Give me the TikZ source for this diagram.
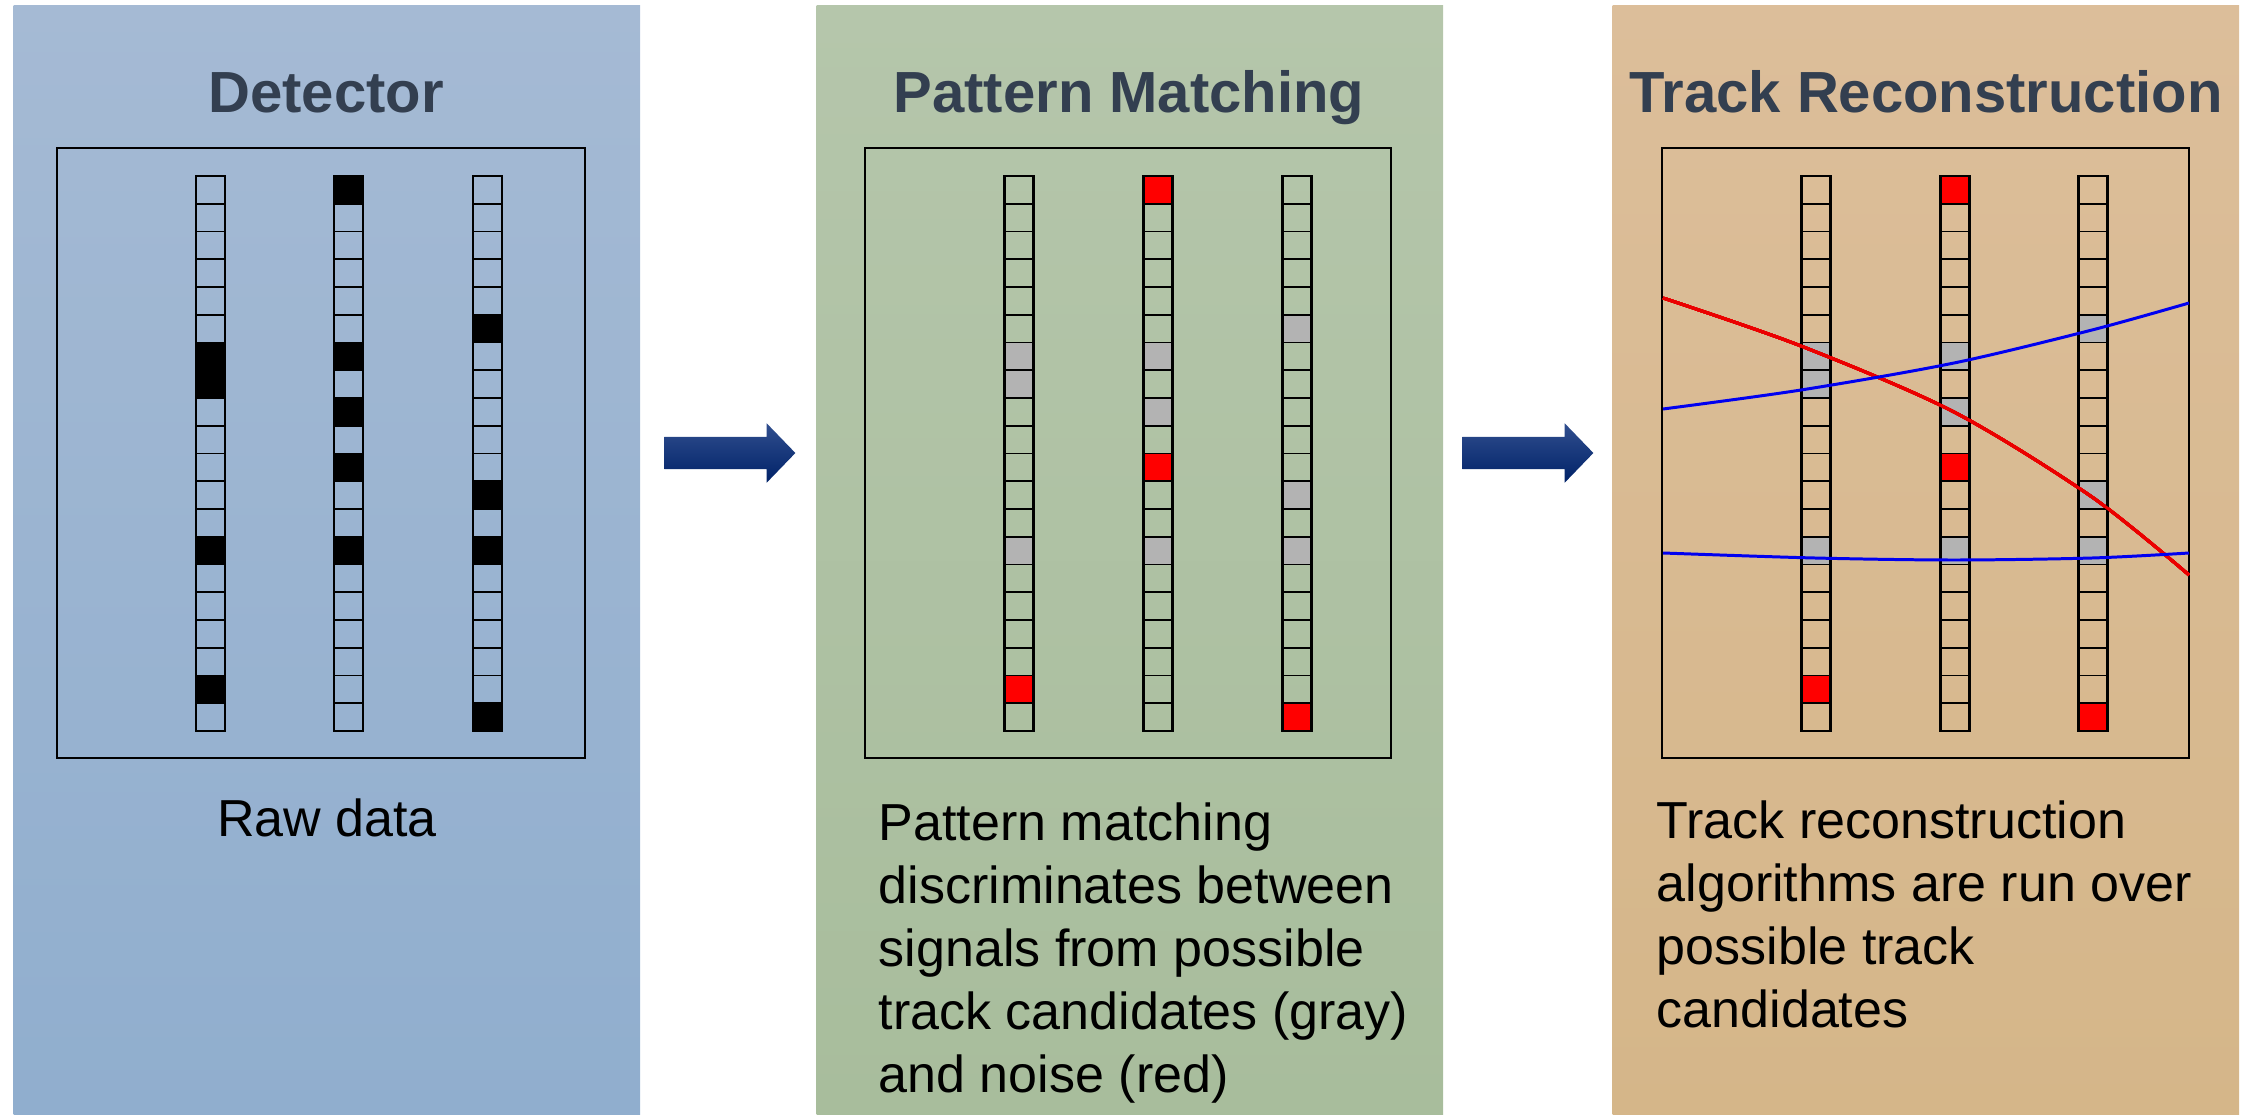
\documentclass[tikz,border=0pt]{standalone}
\usepackage{fontspec}
\setmainfont{Liberation Sans}
\usetikzlibrary{shapes.arrows}
\definecolor{detblue}{RGB}{165,186,212}
\definecolor{detblueb}{RGB}{144,174,206}
\definecolor{patgreen}{RGB}{181,198,171}
\definecolor{patgreenb}{RGB}{168,189,156}
\definecolor{trktan}{RGB}{220,190,154}
\definecolor{trktanb}{RGB}{213,182,137}
\definecolor{titlecol}{RGB}{51,63,80}
\definecolor{arrowtop}{RGB}{48,78,142}
\definecolor{arrowbot}{RGB}{0,34,104}
\definecolor{candgray}{RGB}{179,179,179}
\definecolor{noisered}{RGB}{255,0,0}
\definecolor{fitred}{RGB}{235,0,0}
\definecolor{fitblue}{RGB}{0,0,240}

% one detector strip of 20 cells, #1 = left edge
\newcommand{\stripcells}[1]{%
  \foreach \n in {1,...,19}
    \draw[cellline] (#1,{176+27.75*\n}) -- ++(29,0);
  \draw[stripline] (#1,176) rectangle ++(29,555);}
% filled cells: #1 colour, #2 left edge, #3 rows
\newcommand{\hitcells}[3]{%
  \foreach \n in {#3}
    \fill[#1] (#2,{176+27.75*(\n-1)}) rectangle ++(29,27.75);}

\begin{document}
\begin{tikzpicture}[x=0.01cm, y=-0.01cm,
    panel/.style={anchor=north west, minimum width=6.26cm, minimum height=11.1cm, inner sep=0pt},
    paneltitle/.style={anchor=base, text=titlecol, font=\fontsize{16.5}{20}\selectfont\bfseries},
    caption/.style={anchor=base west, align=left, inner sep=0pt, font=\fontsize{14.8}{17.9}\selectfont},
    frame/.style={draw=black, line width=0.55pt},
    cellline/.style={black, line width=0.5pt},
    stripline/.style={draw=black, line width=0.85pt},
    flowarrow/.style={single arrow, inner xsep=0pt, inner ysep=0.155cm, minimum height=1.31cm,
      single arrow head extend=0.135cm, single arrow tip angle=92,
      top color=arrowtop, bottom color=arrowbot, draw=none},
    track/.style={line width=0.85pt}]
  \useasboundingbox (0,0) rectangle (2250,1115);
  % the three stages
  \node[panel, top color=detblue, bottom color=detblueb] (detector) at (13,5) {};
  \node[panel, top color=patgreen, bottom color=patgreenb] (matching) at (816,5) {};
  \node[panel, top color=trktan, bottom color=trktanb] (reco) at (1612,5) {};
  \node[paneltitle] (dettitle) at (326,113) {Detector};
  \node[paneltitle] (mattitle) at (1129,113) {Pattern Matching};
  \node[paneltitle] (recotitle) at (1926,113) {Track Reconstruction};
  % arrows in the gaps
  \node[flowarrow] (arrowA) at (722,453) {};
  \node[flowarrow] (arrowB) at (1520,453) {};
  % frames round the strips
  \draw[frame] (57,148) rectangle (585,758);
  \draw[frame] (865,148) rectangle (1391,758);
  \draw[frame] (1662,148) rectangle (2189,758);
  % raw hits
  \hitcells{black}{196}{7,8,14,19}
  \hitcells{black}{334}{1,7,9,11,14}
  \hitcells{black}{473}{6,12,14,20}
  % candidates (gray) and noise (red), same in both later stages
  \foreach \px in {1004,1801}{
    \hitcells{candgray}{\px}{7,8,14}
    \hitcells{noisered}{\px}{19}
    \hitcells{candgray}{\px+139}{7,9,14}
    \hitcells{noisered}{\px+139}{1,11}
    \hitcells{candgray}{\px+278}{6,12,14}
    \hitcells{noisered}{\px+278}{20}}
  \foreach \sx in {196,334,473,1004,1143,1282,1801,1940,2078}
    \stripcells{\sx}
  % fitted tracks
  \draw[track, fitred] plot[smooth] coordinates {(1663,298) (1801,346) (1954,412) (2092,497) (2189,575)};
  \draw[track, fitblue] plot[smooth] coordinates {(1663,409) (1801,390) (1954,363) (2092,330) (2189,303)};
  \draw[track, fitblue] plot[smooth] coordinates {(1663,553) (1815,558) (1954,560) (2092,558) (2189,553)};
  % captions (base = last line)
  \node[caption, anchor=base] (rawtext) at (327,836) {Raw data};
  \node[caption] (mattext) at (878,1092) {Pattern matching\\discriminates between\\signals from possible\\track candidates (gray)\\and noise (red)};
  \node[caption] (recotext) at (1656,1027) {Track reconstruction\\algorithms are run over\\possible track\\candidates};
\end{tikzpicture}
\end{document}
